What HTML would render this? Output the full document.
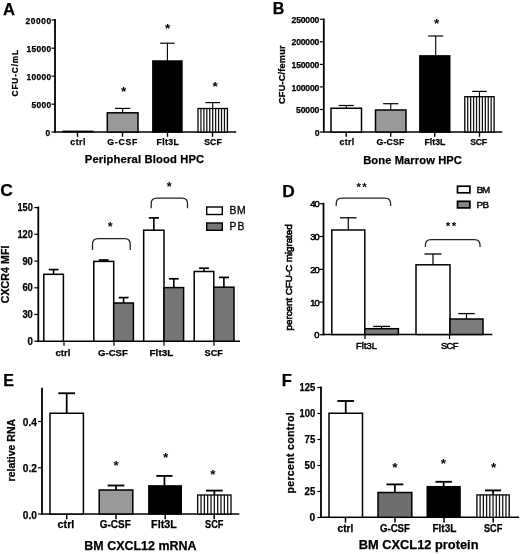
<!DOCTYPE html>
<html lang="en"><head><meta charset="utf-8"><title>Figure</title>
<style>
html,body{margin:0;padding:0;background:#fff;}
svg{display:block;}
</style></head><body>
<svg width="520" height="554" viewBox="0 0 520 554">
<rect width="520" height="554" fill="#fff"/>

<g id="panelA">
<text x="2.97" y="15.00" font-family='"Liberation Sans", sans-serif' font-size="16.6" font-weight="bold" stroke="#000" stroke-width="0.25" textLength="12.99" lengthAdjust="spacing" fill="#000">A</text>
<line x1="55.00" y1="19.00" x2="55.00" y2="132.75" stroke="#000" stroke-width="1.8"/>
<line x1="54.10" y1="132.00" x2="236.30" y2="132.00" stroke="#000" stroke-width="1.6"/>
<line x1="51.50" y1="20.00" x2="55.00" y2="20.00" stroke="#000" stroke-width="1.2"/>
<text x="25.58" y="23.50" font-family='"Liberation Sans", sans-serif' font-size="8.4" font-weight="bold" stroke="#000" stroke-width="0.25" textLength="25.56" lengthAdjust="spacing" fill="#000">20000</text>
<line x1="51.50" y1="48.20" x2="55.00" y2="48.20" stroke="#000" stroke-width="1.2"/>
<text x="26.58" y="51.70" font-family='"Liberation Sans", sans-serif' font-size="8.4" font-weight="bold" stroke="#000" stroke-width="0.25" textLength="24.56" lengthAdjust="spacing" fill="#000">15000</text>
<line x1="51.50" y1="76.20" x2="55.00" y2="76.20" stroke="#000" stroke-width="1.2"/>
<text x="26.58" y="79.70" font-family='"Liberation Sans", sans-serif' font-size="8.4" font-weight="bold" stroke="#000" stroke-width="0.25" textLength="24.56" lengthAdjust="spacing" fill="#000">10000</text>
<line x1="51.50" y1="104.20" x2="55.00" y2="104.20" stroke="#000" stroke-width="1.2"/>
<text x="31.38" y="107.70" font-family='"Liberation Sans", sans-serif' font-size="8.4" font-weight="bold" stroke="#000" stroke-width="0.25" textLength="19.76" lengthAdjust="spacing" fill="#000">5000</text>
<line x1="51.50" y1="132.00" x2="55.00" y2="132.00" stroke="#000" stroke-width="1.2"/>
<text x="45.58" y="135.50" font-family='"Liberation Sans", sans-serif' font-size="8.4" font-weight="bold" stroke="#000" stroke-width="0.25" textLength="5.56" lengthAdjust="spacing" fill="#000">0</text>
<text transform="translate(18.30,96.42) rotate(-90)" x="0" y="0" font-family='"Liberation Sans", sans-serif' font-size="8.3" font-weight="bold" stroke="#000" stroke-width="0.25" textLength="46.55" lengthAdjust="spacing">CFU-C/mL</text>
<rect x="62.80" y="131.10" width="30.30" height="0.90" fill="#fff" stroke="#000" stroke-width="1.0"/>
<line x1="122.65" y1="112.80" x2="122.65" y2="108.40" stroke="#000" stroke-width="1.1"/>
<line x1="114.98" y1="108.40" x2="130.33" y2="108.40" stroke="#000" stroke-width="1.2000000000000002"/>
<rect x="107.30" y="112.80" width="30.70" height="19.20" fill="#999" stroke="#000" stroke-width="1.5"/>
<line x1="167.40" y1="61.00" x2="167.40" y2="43.20" stroke="#000" stroke-width="1.1"/>
<line x1="160.12" y1="43.20" x2="174.67" y2="43.20" stroke="#000" stroke-width="1.2000000000000002"/>
<rect x="152.85" y="61.00" width="29.10" height="71.00" fill="#000" stroke="#000" stroke-width="1.5"/>
<line x1="212.70" y1="108.50" x2="212.70" y2="102.60" stroke="#000" stroke-width="1.1"/>
<line x1="205.35" y1="102.60" x2="220.05" y2="102.60" stroke="#000" stroke-width="1.2000000000000002"/>
<rect x="198.00" y="108.50" width="29.40" height="23.50" fill="#fff" stroke="none"/>
<line x1="200.94" y1="108.50" x2="200.94" y2="132.00" stroke="#111" stroke-width="1.25"/>
<line x1="203.88" y1="108.50" x2="203.88" y2="132.00" stroke="#111" stroke-width="1.25"/>
<line x1="206.82" y1="108.50" x2="206.82" y2="132.00" stroke="#111" stroke-width="1.25"/>
<line x1="209.76" y1="108.50" x2="209.76" y2="132.00" stroke="#111" stroke-width="1.25"/>
<line x1="212.70" y1="108.50" x2="212.70" y2="132.00" stroke="#111" stroke-width="1.25"/>
<line x1="215.64" y1="108.50" x2="215.64" y2="132.00" stroke="#111" stroke-width="1.25"/>
<line x1="218.58" y1="108.50" x2="218.58" y2="132.00" stroke="#111" stroke-width="1.25"/>
<line x1="221.52" y1="108.50" x2="221.52" y2="132.00" stroke="#111" stroke-width="1.25"/>
<line x1="224.46" y1="108.50" x2="224.46" y2="132.00" stroke="#111" stroke-width="1.25"/>
<rect x="198.00" y="108.50" width="29.40" height="23.50" fill="none" stroke="#000" stroke-width="1.3"/>
<line x1="77.50" y1="132.00" x2="77.50" y2="136.80" stroke="#000" stroke-width="1.4"/>
<line x1="122.50" y1="132.00" x2="122.50" y2="136.80" stroke="#000" stroke-width="1.4"/>
<line x1="167.50" y1="132.00" x2="167.50" y2="136.80" stroke="#000" stroke-width="1.4"/>
<line x1="212.50" y1="132.00" x2="212.50" y2="136.80" stroke="#000" stroke-width="1.4"/>
<text x="123.60" y="95.80" text-anchor="middle" font-family='"Liberation Sans", sans-serif' font-size="13.5" font-weight="bold">*</text>
<text x="167.60" y="32.59" text-anchor="middle" font-family='"Liberation Sans", sans-serif' font-size="13.5" font-weight="bold">*</text>
<text x="215.10" y="91.19" text-anchor="middle" font-family='"Liberation Sans", sans-serif' font-size="13.5" font-weight="bold">*</text>
<text x="70.31" y="144.90" font-family='"Liberation Sans", sans-serif' font-size="8.7" font-weight="bold" stroke="#000" stroke-width="0.25" textLength="15.03" lengthAdjust="spacing" fill="#000">ctrl</text>
<text x="107.27" y="144.90" font-family='"Liberation Sans", sans-serif' font-size="8.7" font-weight="bold" stroke="#000" stroke-width="0.25" textLength="30.08" lengthAdjust="spacing" fill="#000">G-CSF</text>
<text x="156.56" y="144.90" font-family='"Liberation Sans", sans-serif' font-size="8.7" font-weight="bold" stroke="#000" stroke-width="0.25" textLength="22.28" lengthAdjust="spacing" fill="#000">Flt3L</text>
<text x="204.16" y="144.90" font-family='"Liberation Sans", sans-serif' font-size="8.7" font-weight="bold" stroke="#000" stroke-width="0.25" textLength="17.68" lengthAdjust="spacing" fill="#000">SCF</text>
<text x="84.84" y="163.20" font-family='"Liberation Sans", sans-serif' font-size="11.2" font-weight="bold" stroke="#000" stroke-width="0.25" textLength="119.31" lengthAdjust="spacing" fill="#000">Peripheral Blood HPC</text>
</g>
<g id="panelB">
<text x="272.80" y="14.00" font-family='"Liberation Sans", sans-serif' font-size="16.0" font-weight="bold" stroke="#000" stroke-width="0.25" textLength="12.24" lengthAdjust="spacing" fill="#000">B</text>
<line x1="323.80" y1="18.50" x2="323.80" y2="132.75" stroke="#000" stroke-width="1.8"/>
<line x1="322.90" y1="132.00" x2="502.20" y2="132.00" stroke="#000" stroke-width="1.6"/>
<line x1="319.80" y1="19.30" x2="323.80" y2="19.30" stroke="#000" stroke-width="1.2"/>
<text x="291.57" y="22.90" font-family='"Liberation Sans", sans-serif' font-size="8.6" font-weight="bold" stroke="#000" stroke-width="0.25" textLength="27.77" lengthAdjust="spacing" fill="#000">250000</text>
<line x1="319.80" y1="41.80" x2="323.80" y2="41.80" stroke="#000" stroke-width="1.2"/>
<text x="291.57" y="45.40" font-family='"Liberation Sans", sans-serif' font-size="8.6" font-weight="bold" stroke="#000" stroke-width="0.25" textLength="27.77" lengthAdjust="spacing" fill="#000">200000</text>
<line x1="319.80" y1="64.40" x2="323.80" y2="64.40" stroke="#000" stroke-width="1.2"/>
<text x="291.57" y="68.00" font-family='"Liberation Sans", sans-serif' font-size="8.6" font-weight="bold" stroke="#000" stroke-width="0.25" textLength="27.77" lengthAdjust="spacing" fill="#000">150000</text>
<line x1="319.80" y1="86.90" x2="323.80" y2="86.90" stroke="#000" stroke-width="1.2"/>
<text x="291.57" y="90.50" font-family='"Liberation Sans", sans-serif' font-size="8.6" font-weight="bold" stroke="#000" stroke-width="0.25" textLength="27.77" lengthAdjust="spacing" fill="#000">100000</text>
<line x1="319.80" y1="109.50" x2="323.80" y2="109.50" stroke="#000" stroke-width="1.2"/>
<text x="296.07" y="113.10" font-family='"Liberation Sans", sans-serif' font-size="8.6" font-weight="bold" stroke="#000" stroke-width="0.25" textLength="23.27" lengthAdjust="spacing" fill="#000">50000</text>
<line x1="319.80" y1="132.00" x2="323.80" y2="132.00" stroke="#000" stroke-width="1.2"/>
<text x="314.77" y="135.60" font-family='"Liberation Sans", sans-serif' font-size="8.6" font-weight="bold" stroke="#000" stroke-width="0.25" textLength="4.57" lengthAdjust="spacing" fill="#000">0</text>
<text transform="translate(285.40,103.96) rotate(-90)" x="0" y="0" font-family='"Liberation Sans", sans-serif' font-size="9.2" font-weight="bold" stroke="#000" stroke-width="0.25" textLength="58.53" lengthAdjust="spacing">CFU-C/femur</text>
<line x1="346.25" y1="108.25" x2="346.25" y2="105.50" stroke="#000" stroke-width="1.1"/>
<line x1="338.62" y1="105.50" x2="353.88" y2="105.50" stroke="#000" stroke-width="1.2000000000000002"/>
<rect x="331.00" y="108.25" width="30.50" height="23.75" fill="#fff" stroke="#000" stroke-width="1.5"/>
<line x1="390.75" y1="110.00" x2="390.75" y2="103.70" stroke="#000" stroke-width="1.1"/>
<line x1="383.12" y1="103.70" x2="398.38" y2="103.70" stroke="#000" stroke-width="1.2000000000000002"/>
<rect x="375.50" y="110.00" width="30.50" height="22.00" fill="#999" stroke="#000" stroke-width="1.5"/>
<line x1="435.70" y1="55.90" x2="435.70" y2="36.00" stroke="#000" stroke-width="1.1"/>
<line x1="428.23" y1="36.00" x2="443.17" y2="36.00" stroke="#000" stroke-width="1.2000000000000002"/>
<rect x="419.85" y="55.90" width="29.90" height="76.10" fill="#000" stroke="#000" stroke-width="1.5"/>
<line x1="479.45" y1="96.70" x2="479.45" y2="91.40" stroke="#000" stroke-width="1.1"/>
<line x1="472.13" y1="91.40" x2="486.78" y2="91.40" stroke="#000" stroke-width="1.2000000000000002"/>
<rect x="464.80" y="96.70" width="29.30" height="35.30" fill="#fff" stroke="none"/>
<line x1="467.73" y1="96.70" x2="467.73" y2="132.00" stroke="#111" stroke-width="1.25"/>
<line x1="470.66" y1="96.70" x2="470.66" y2="132.00" stroke="#111" stroke-width="1.25"/>
<line x1="473.59" y1="96.70" x2="473.59" y2="132.00" stroke="#111" stroke-width="1.25"/>
<line x1="476.52" y1="96.70" x2="476.52" y2="132.00" stroke="#111" stroke-width="1.25"/>
<line x1="479.45" y1="96.70" x2="479.45" y2="132.00" stroke="#111" stroke-width="1.25"/>
<line x1="482.38" y1="96.70" x2="482.38" y2="132.00" stroke="#111" stroke-width="1.25"/>
<line x1="485.31" y1="96.70" x2="485.31" y2="132.00" stroke="#111" stroke-width="1.25"/>
<line x1="488.24" y1="96.70" x2="488.24" y2="132.00" stroke="#111" stroke-width="1.25"/>
<line x1="491.17" y1="96.70" x2="491.17" y2="132.00" stroke="#111" stroke-width="1.25"/>
<rect x="464.80" y="96.70" width="29.30" height="35.30" fill="none" stroke="#000" stroke-width="1.3"/>
<line x1="346.20" y1="132.00" x2="346.20" y2="136.80" stroke="#000" stroke-width="1.4"/>
<line x1="390.70" y1="132.00" x2="390.70" y2="136.80" stroke="#000" stroke-width="1.4"/>
<line x1="434.70" y1="132.00" x2="434.70" y2="136.80" stroke="#000" stroke-width="1.4"/>
<line x1="479.50" y1="132.00" x2="479.50" y2="136.80" stroke="#000" stroke-width="1.4"/>
<text x="436.60" y="27.59" text-anchor="middle" font-family='"Liberation Sans", sans-serif' font-size="13.5" font-weight="bold">*</text>
<text x="339.56" y="144.90" font-family='"Liberation Sans", sans-serif' font-size="8.7" font-weight="bold" stroke="#000" stroke-width="0.25" textLength="14.53" lengthAdjust="spacing" fill="#000">ctrl</text>
<text x="376.56" y="144.90" font-family='"Liberation Sans", sans-serif' font-size="8.7" font-weight="bold" stroke="#000" stroke-width="0.25" textLength="27.78" lengthAdjust="spacing" fill="#000">G-CSF</text>
<text x="424.56" y="144.90" font-family='"Liberation Sans", sans-serif' font-size="8.7" font-weight="bold" stroke="#000" stroke-width="0.25" textLength="20.78" lengthAdjust="spacing" fill="#000">Flt3L</text>
<text x="470.37" y="144.90" font-family='"Liberation Sans", sans-serif' font-size="8.7" font-weight="bold" stroke="#000" stroke-width="0.25" textLength="16.78" lengthAdjust="spacing" fill="#000">SCF</text>
<text x="363.14" y="164.40" font-family='"Liberation Sans", sans-serif' font-size="11.2" font-weight="bold" stroke="#000" stroke-width="0.25" textLength="98.81" lengthAdjust="spacing" fill="#000">Bone Marrow HPC</text>
</g>
<g id="panelC">
<text x="0.33" y="196.00" font-family='"Liberation Sans", sans-serif' font-size="17.4" font-weight="bold" stroke="#000" stroke-width="0.25" textLength="12.67" lengthAdjust="spacing" fill="#000">C</text>
<line x1="38.30" y1="206.50" x2="38.30" y2="342.00" stroke="#000" stroke-width="1.8"/>
<line x1="37.40" y1="341.25" x2="240.00" y2="341.25" stroke="#000" stroke-width="1.6"/>
<line x1="34.30" y1="207.60" x2="38.30" y2="207.60" stroke="#000" stroke-width="1.2"/>
<text x="17.39" y="211.20" font-family='"Liberation Sans", sans-serif' font-size="10.2" font-weight="bold" stroke="#000" stroke-width="0.25" textLength="15.42" lengthAdjust="spacingAndGlyphs" fill="#000">150</text>
<line x1="34.30" y1="234.30" x2="38.30" y2="234.30" stroke="#000" stroke-width="1.2"/>
<text x="17.39" y="237.90" font-family='"Liberation Sans", sans-serif' font-size="10.2" font-weight="bold" stroke="#000" stroke-width="0.25" textLength="15.42" lengthAdjust="spacingAndGlyphs" fill="#000">120</text>
<line x1="34.30" y1="261.10" x2="38.30" y2="261.10" stroke="#000" stroke-width="1.2"/>
<text x="22.39" y="264.70" font-family='"Liberation Sans", sans-serif' font-size="10.2" font-weight="bold" stroke="#000" stroke-width="0.25" textLength="10.42" lengthAdjust="spacingAndGlyphs" fill="#000">90</text>
<line x1="34.30" y1="287.80" x2="38.30" y2="287.80" stroke="#000" stroke-width="1.2"/>
<text x="22.39" y="291.40" font-family='"Liberation Sans", sans-serif' font-size="10.2" font-weight="bold" stroke="#000" stroke-width="0.25" textLength="10.42" lengthAdjust="spacingAndGlyphs" fill="#000">60</text>
<line x1="34.30" y1="314.50" x2="38.30" y2="314.50" stroke="#000" stroke-width="1.2"/>
<text x="22.39" y="318.10" font-family='"Liberation Sans", sans-serif' font-size="10.2" font-weight="bold" stroke="#000" stroke-width="0.25" textLength="10.42" lengthAdjust="spacingAndGlyphs" fill="#000">30</text>
<line x1="34.30" y1="341.25" x2="38.30" y2="341.25" stroke="#000" stroke-width="1.2"/>
<text x="27.39" y="344.85" font-family='"Liberation Sans", sans-serif' font-size="10.2" font-weight="bold" stroke="#000" stroke-width="0.25" textLength="5.42" lengthAdjust="spacingAndGlyphs" fill="#000">0</text>
<text transform="translate(8.90,303.22) rotate(-90)" x="0" y="0" font-family='"Liberation Sans", sans-serif' font-size="10.5" font-weight="bold" stroke="#000" stroke-width="0.25" textLength="57.64" lengthAdjust="spacing">CXCR4 MFI</text>
<line x1="53.60" y1="274.30" x2="53.60" y2="269.60" stroke="#000" stroke-width="1.6"/>
<line x1="48.70" y1="269.60" x2="58.50" y2="269.60" stroke="#000" stroke-width="1.7000000000000002"/>
<rect x="43.80" y="274.30" width="19.60" height="66.95" fill="#fff" stroke="#000" stroke-width="1.5"/>
<line x1="103.75" y1="261.40" x2="103.75" y2="260.00" stroke="#000" stroke-width="1.6"/>
<line x1="98.78" y1="260.00" x2="108.72" y2="260.00" stroke="#000" stroke-width="1.7000000000000002"/>
<rect x="93.80" y="261.40" width="19.90" height="79.85" fill="#fff" stroke="#000" stroke-width="1.5"/>
<line x1="123.55" y1="303.00" x2="123.55" y2="297.60" stroke="#000" stroke-width="1.6"/>
<line x1="118.63" y1="297.60" x2="128.48" y2="297.60" stroke="#000" stroke-width="1.7000000000000002"/>
<rect x="113.70" y="303.00" width="19.70" height="38.25" fill="#757575" stroke="#000" stroke-width="1.5"/>
<line x1="153.85" y1="230.20" x2="153.85" y2="217.90" stroke="#000" stroke-width="1.6"/>
<line x1="148.77" y1="217.90" x2="158.93" y2="217.90" stroke="#000" stroke-width="1.7000000000000002"/>
<rect x="143.70" y="230.20" width="20.30" height="111.05" fill="#fff" stroke="#000" stroke-width="1.5"/>
<line x1="173.80" y1="287.60" x2="173.80" y2="278.80" stroke="#000" stroke-width="1.6"/>
<line x1="168.90" y1="278.80" x2="178.70" y2="278.80" stroke="#000" stroke-width="1.7000000000000002"/>
<rect x="164.00" y="287.60" width="19.60" height="53.65" fill="#757575" stroke="#000" stroke-width="1.5"/>
<line x1="204.00" y1="271.50" x2="204.00" y2="268.20" stroke="#000" stroke-width="1.6"/>
<line x1="199.10" y1="268.20" x2="208.90" y2="268.20" stroke="#000" stroke-width="1.7000000000000002"/>
<rect x="194.20" y="271.50" width="19.60" height="69.75" fill="#fff" stroke="#000" stroke-width="1.5"/>
<line x1="223.90" y1="287.20" x2="223.90" y2="277.40" stroke="#000" stroke-width="1.6"/>
<line x1="218.85" y1="277.40" x2="228.95" y2="277.40" stroke="#000" stroke-width="1.7000000000000002"/>
<rect x="213.80" y="287.20" width="20.20" height="54.05" fill="#757575" stroke="#000" stroke-width="1.5"/>
<line x1="64.00" y1="341.25" x2="64.00" y2="345.75" stroke="#000" stroke-width="1.2"/>
<line x1="114.00" y1="341.25" x2="114.00" y2="345.75" stroke="#000" stroke-width="1.2"/>
<line x1="164.00" y1="341.25" x2="164.00" y2="345.75" stroke="#000" stroke-width="1.2"/>
<line x1="214.00" y1="341.25" x2="214.00" y2="345.75" stroke="#000" stroke-width="1.2"/>
<path d="M92.50,250.00 L92.50,244.20 C92.50,240.90 94.48,238.70 98.00,238.70 H124.70 C128.22,238.70 130.20,240.90 130.20,244.20 L130.20,250.00" fill="none" stroke="#222" stroke-width="1.25"/>
<text x="110.20" y="231.22" text-anchor="middle" font-family='"Liberation Sans", sans-serif' font-size="12.5" font-weight="bold">*</text>
<path d="M151.20,208.30 L151.20,203.50 C151.20,200.20 153.18,198.00 156.70,198.00 H182.00 C185.52,198.00 187.50,200.20 187.50,203.50 L187.50,208.30" fill="none" stroke="#222" stroke-width="1.25"/>
<text x="169.30" y="190.53" text-anchor="middle" font-family='"Liberation Sans", sans-serif' font-size="12.5" font-weight="bold">*</text>
<rect x="206.7" y="207" width="15.6" height="7.5" fill="#fff" stroke="#000" stroke-width="1.4"/>
<rect x="206.7" y="223" width="15.6" height="7.3" fill="#757575" stroke="#000" stroke-width="1.4"/>
<text x="229.48" y="214.00" font-family='"Liberation Sans", sans-serif' font-size="10.4" font-weight="normal" stroke="#000" stroke-width="0.3" textLength="16.24" lengthAdjust="spacing" fill="#000">BM</text>
<text x="229.48" y="229.70" font-family='"Liberation Sans", sans-serif' font-size="10.4" font-weight="normal" stroke="#000" stroke-width="0.3" textLength="14.94" lengthAdjust="spacing" fill="#000">PB</text>
<text x="55.52" y="356.00" font-family='"Liberation Sans", sans-serif' font-size="9.5" font-weight="bold" stroke="#000" stroke-width="0.25" textLength="14.86" lengthAdjust="spacingAndGlyphs" fill="#000">ctrl</text>
<text x="98.03" y="356.00" font-family='"Liberation Sans", sans-serif' font-size="9.5" font-weight="bold" stroke="#000" stroke-width="0.25" textLength="29.86" lengthAdjust="spacingAndGlyphs" fill="#000">G-CSF</text>
<text x="149.53" y="356.00" font-family='"Liberation Sans", sans-serif' font-size="9.5" font-weight="bold" stroke="#000" stroke-width="0.25" textLength="23.86" lengthAdjust="spacingAndGlyphs" fill="#000">Flt3L</text>
<text x="204.53" y="356.00" font-family='"Liberation Sans", sans-serif' font-size="9.5" font-weight="bold" stroke="#000" stroke-width="0.25" textLength="18.36" lengthAdjust="spacingAndGlyphs" fill="#000">SCF</text>
</g>
<g id="panelD">
<text x="282.35" y="196.50" font-family='"Liberation Sans", sans-serif' font-size="17.0" font-weight="bold" stroke="#000" stroke-width="0.25" textLength="12.53" lengthAdjust="spacingAndGlyphs" fill="#000">D</text>
<line x1="323.50" y1="202.80" x2="323.50" y2="335.25" stroke="#000" stroke-width="1.8"/>
<line x1="322.60" y1="334.50" x2="492.30" y2="334.50" stroke="#000" stroke-width="1.6"/>
<line x1="319.50" y1="203.70" x2="323.50" y2="203.70" stroke="#000" stroke-width="1.2"/>
<text x="310.14" y="207.20" font-family='"Liberation Sans", sans-serif' font-size="9.3" font-weight="normal" stroke="#000" stroke-width="0.5" textLength="9.44" lengthAdjust="spacing" fill="#000">40</text>
<line x1="319.50" y1="236.50" x2="323.50" y2="236.50" stroke="#000" stroke-width="1.2"/>
<text x="310.14" y="240.00" font-family='"Liberation Sans", sans-serif' font-size="9.3" font-weight="normal" stroke="#000" stroke-width="0.5" textLength="9.44" lengthAdjust="spacing" fill="#000">30</text>
<line x1="319.50" y1="269.30" x2="323.50" y2="269.30" stroke="#000" stroke-width="1.2"/>
<text x="310.14" y="272.80" font-family='"Liberation Sans", sans-serif' font-size="9.3" font-weight="normal" stroke="#000" stroke-width="0.5" textLength="9.44" lengthAdjust="spacing" fill="#000">20</text>
<line x1="319.50" y1="302.10" x2="323.50" y2="302.10" stroke="#000" stroke-width="1.2"/>
<text x="310.14" y="305.60" font-family='"Liberation Sans", sans-serif' font-size="9.3" font-weight="normal" stroke="#000" stroke-width="0.5" textLength="9.44" lengthAdjust="spacing" fill="#000">10</text>
<line x1="319.50" y1="334.70" x2="323.50" y2="334.70" stroke="#000" stroke-width="1.2"/>
<text x="314.14" y="338.20" font-family='"Liberation Sans", sans-serif' font-size="9.3" font-weight="normal" stroke="#000" stroke-width="0.5" textLength="5.44" lengthAdjust="spacing" fill="#000">0</text>
<text transform="translate(292.20,330.39) rotate(-90)" x="0" y="0" font-family='"Liberation Sans", sans-serif' font-size="9.9" font-weight="normal" stroke="#000" stroke-width="0.6" textLength="106.09" lengthAdjust="spacing">percent CFU-C migrated</text>
<line x1="348.30" y1="230.00" x2="348.30" y2="217.80" stroke="#000" stroke-width="1.2"/>
<line x1="340.05" y1="217.80" x2="356.55" y2="217.80" stroke="#000" stroke-width="1.3"/>
<rect x="331.80" y="230.00" width="33.00" height="104.50" fill="#fff" stroke="#000" stroke-width="1.5"/>
<line x1="381.60" y1="328.70" x2="381.60" y2="326.40" stroke="#000" stroke-width="1.2"/>
<line x1="373.20" y1="326.40" x2="390.00" y2="326.40" stroke="#000" stroke-width="1.3"/>
<rect x="364.80" y="328.70" width="33.60" height="5.80" fill="#7d7d7d" stroke="#000" stroke-width="1.5"/>
<line x1="433.00" y1="264.80" x2="433.00" y2="254.00" stroke="#000" stroke-width="1.2"/>
<line x1="424.50" y1="254.00" x2="441.50" y2="254.00" stroke="#000" stroke-width="1.3"/>
<rect x="416.00" y="264.80" width="34.00" height="69.70" fill="#fff" stroke="#000" stroke-width="1.5"/>
<line x1="466.50" y1="319.00" x2="466.50" y2="313.60" stroke="#000" stroke-width="1.2"/>
<line x1="458.25" y1="313.60" x2="474.75" y2="313.60" stroke="#000" stroke-width="1.3"/>
<rect x="450.00" y="319.00" width="33.00" height="15.50" fill="#7d7d7d" stroke="#000" stroke-width="1.5"/>
<line x1="365.00" y1="334.50" x2="365.00" y2="339.00" stroke="#000" stroke-width="1.2"/>
<line x1="449.50" y1="334.50" x2="449.50" y2="339.00" stroke="#000" stroke-width="1.2"/>
<path d="M336.20,206.00 L336.20,203.70 C336.20,200.40 338.18,198.20 341.70,198.20 H385.10 C388.62,198.20 390.60,200.40 390.60,203.70 L390.60,206.00" fill="none" stroke="#222" stroke-width="1.25"/>
<text x="358.70" y="190.76" text-anchor="middle" font-family='"Liberation Sans", sans-serif' font-size="11.5" font-weight="bold">*</text>
<text x="364.50" y="190.76" text-anchor="middle" font-family='"Liberation Sans", sans-serif' font-size="11.5" font-weight="bold">*</text>
<path d="M425.40,247.00 L425.40,245.00 C425.40,241.70 427.38,239.50 430.90,239.50 H474.50 C478.02,239.50 480.00,241.70 480.00,245.00 L480.00,247.00" fill="none" stroke="#222" stroke-width="1.25"/>
<text x="448.10" y="229.66" text-anchor="middle" font-family='"Liberation Sans", sans-serif' font-size="11.5" font-weight="bold">*</text>
<text x="453.90" y="229.66" text-anchor="middle" font-family='"Liberation Sans", sans-serif' font-size="11.5" font-weight="bold">*</text>
<rect x="457.5" y="186.2" width="12.4" height="6.6" fill="#fff" stroke="#000" stroke-width="1.7"/>
<rect x="457.5" y="201.3" width="12.4" height="6.6" fill="#858585" stroke="#000" stroke-width="1.7"/>
<text x="476.40" y="193.10" font-family='"Liberation Sans", sans-serif' font-size="9.9" font-weight="normal" stroke="#000" stroke-width="0.4" textLength="13.79" lengthAdjust="spacing" fill="#000">BM</text>
<text x="476.40" y="208.10" font-family='"Liberation Sans", sans-serif' font-size="9.9" font-weight="normal" stroke="#000" stroke-width="0.4" textLength="12.79" lengthAdjust="spacing" fill="#000">PB</text>
<text x="355.93" y="348.50" font-family='"Liberation Sans", sans-serif' font-size="9.4" font-weight="normal" stroke="#000" stroke-width="0.5" textLength="21.15" lengthAdjust="spacing" fill="#000">Flt3L</text>
<text x="440.93" y="348.50" font-family='"Liberation Sans", sans-serif' font-size="9.4" font-weight="normal" stroke="#000" stroke-width="0.5" textLength="17.45" lengthAdjust="spacing" fill="#000">SCF</text>
</g>
<g id="panelE">
<text x="3.20" y="386.10" font-family='"Liberation Sans", sans-serif' font-size="16.0" font-weight="bold" stroke="#000" stroke-width="0.25" textLength="11.04" lengthAdjust="spacing" fill="#000">E</text>
<line x1="42.00" y1="387.75" x2="42.00" y2="514.75" stroke="#000" stroke-width="1.8"/>
<line x1="41.10" y1="514.00" x2="239.30" y2="514.00" stroke="#000" stroke-width="1.6"/>
<line x1="38.00" y1="421.50" x2="42.00" y2="421.50" stroke="#000" stroke-width="1.2"/>
<text x="22.87" y="426.00" font-family='"Liberation Sans", sans-serif' font-size="10.6" font-weight="bold" stroke="#000" stroke-width="0.25" textLength="14.15" lengthAdjust="spacingAndGlyphs" fill="#000">0.4</text>
<line x1="38.00" y1="467.80" x2="42.00" y2="467.80" stroke="#000" stroke-width="1.2"/>
<text x="22.87" y="472.30" font-family='"Liberation Sans", sans-serif' font-size="10.6" font-weight="bold" stroke="#000" stroke-width="0.25" textLength="14.15" lengthAdjust="spacingAndGlyphs" fill="#000">0.2</text>
<line x1="38.00" y1="514.00" x2="42.00" y2="514.00" stroke="#000" stroke-width="1.2"/>
<text x="22.87" y="518.50" font-family='"Liberation Sans", sans-serif' font-size="10.6" font-weight="bold" stroke="#000" stroke-width="0.25" textLength="14.15" lengthAdjust="spacingAndGlyphs" fill="#000">0.0</text>
<text transform="translate(14.70,481.38) rotate(-90)" x="0" y="0" font-family='"Liberation Sans", sans-serif' font-size="11.5" font-weight="bold" stroke="#000" stroke-width="0.25" textLength="62.53" lengthAdjust="spacingAndGlyphs">relative RNA</text>
<line x1="66.70" y1="413.25" x2="66.70" y2="393.25" stroke="#000" stroke-width="1.75"/>
<line x1="58.35" y1="393.25" x2="75.05" y2="393.25" stroke="#000" stroke-width="1.85"/>
<rect x="50.00" y="413.25" width="33.40" height="100.75" fill="#fff" stroke="#000" stroke-width="1.5"/>
<line x1="116.00" y1="490.00" x2="116.00" y2="485.50" stroke="#000" stroke-width="1.75"/>
<line x1="107.60" y1="485.50" x2="124.40" y2="485.50" stroke="#000" stroke-width="1.85"/>
<rect x="99.20" y="490.00" width="33.60" height="24.00" fill="#999" stroke="#000" stroke-width="1.5"/>
<line x1="164.45" y1="485.90" x2="164.45" y2="475.90" stroke="#000" stroke-width="1.75"/>
<line x1="156.35" y1="475.90" x2="172.55" y2="475.90" stroke="#000" stroke-width="1.85"/>
<rect x="148.85" y="485.90" width="32.40" height="28.10" fill="#000" stroke="#000" stroke-width="1.5"/>
<line x1="214.35" y1="495.00" x2="214.35" y2="490.60" stroke="#000" stroke-width="1.75"/>
<line x1="206.02" y1="490.60" x2="222.68" y2="490.60" stroke="#000" stroke-width="1.85"/>
<rect x="197.70" y="495.00" width="33.30" height="19.00" fill="#fff" stroke="none"/>
<line x1="201.03" y1="495.00" x2="201.03" y2="514.00" stroke="#111" stroke-width="1.25"/>
<line x1="204.36" y1="495.00" x2="204.36" y2="514.00" stroke="#111" stroke-width="1.25"/>
<line x1="207.69" y1="495.00" x2="207.69" y2="514.00" stroke="#111" stroke-width="1.25"/>
<line x1="211.02" y1="495.00" x2="211.02" y2="514.00" stroke="#111" stroke-width="1.25"/>
<line x1="214.35" y1="495.00" x2="214.35" y2="514.00" stroke="#111" stroke-width="1.25"/>
<line x1="217.68" y1="495.00" x2="217.68" y2="514.00" stroke="#111" stroke-width="1.25"/>
<line x1="221.01" y1="495.00" x2="221.01" y2="514.00" stroke="#111" stroke-width="1.25"/>
<line x1="224.34" y1="495.00" x2="224.34" y2="514.00" stroke="#111" stroke-width="1.25"/>
<line x1="227.67" y1="495.00" x2="227.67" y2="514.00" stroke="#111" stroke-width="1.25"/>
<rect x="197.70" y="495.00" width="33.30" height="19.00" fill="none" stroke="#000" stroke-width="1.3"/>
<line x1="66.70" y1="514.00" x2="66.70" y2="519.30" stroke="#000" stroke-width="1.5"/>
<line x1="116.00" y1="514.00" x2="116.00" y2="519.30" stroke="#000" stroke-width="1.5"/>
<line x1="165.20" y1="514.00" x2="165.20" y2="519.30" stroke="#000" stroke-width="1.5"/>
<line x1="214.20" y1="514.00" x2="214.20" y2="519.30" stroke="#000" stroke-width="1.5"/>
<text x="116.20" y="469.59" text-anchor="middle" font-family='"Liberation Sans", sans-serif' font-size="13.5" font-weight="bold">*</text>
<text x="165.70" y="462.29" text-anchor="middle" font-family='"Liberation Sans", sans-serif' font-size="13.5" font-weight="bold">*</text>
<text x="213.00" y="479.39" text-anchor="middle" font-family='"Liberation Sans", sans-serif' font-size="13.5" font-weight="bold">*</text>
<text x="57.49" y="527.80" font-family='"Liberation Sans", sans-serif' font-size="10.1" font-weight="bold" stroke="#000" stroke-width="0.25" textLength="16.91" lengthAdjust="spacingAndGlyphs" fill="#000">ctrl</text>
<text x="99.70" y="527.80" font-family='"Liberation Sans", sans-serif' font-size="10.1" font-weight="bold" stroke="#000" stroke-width="0.25" textLength="31.11" lengthAdjust="spacingAndGlyphs" fill="#000">G-CSF</text>
<text x="151.09" y="527.80" font-family='"Liberation Sans", sans-serif' font-size="10.1" font-weight="bold" stroke="#000" stroke-width="0.25" textLength="25.71" lengthAdjust="spacingAndGlyphs" fill="#000">Flt3L</text>
<text x="205.09" y="527.80" font-family='"Liberation Sans", sans-serif' font-size="10.1" font-weight="bold" stroke="#000" stroke-width="0.25" textLength="18.41" lengthAdjust="spacingAndGlyphs" fill="#000">SCF</text>
<text x="84.39" y="549.60" font-family='"Liberation Sans", sans-serif' font-size="12.1" font-weight="bold" stroke="#000" stroke-width="0.25" textLength="112.09" lengthAdjust="spacingAndGlyphs" fill="#000">BM CXCL12 mRNA</text>
</g>
<g id="panelF">
<text x="281.78" y="385.80" font-family='"Liberation Sans", sans-serif' font-size="16.5" font-weight="bold" stroke="#000" stroke-width="0.25" textLength="11.18" lengthAdjust="spacing" fill="#000">F</text>
<line x1="321.00" y1="386.60" x2="321.00" y2="518.05" stroke="#000" stroke-width="1.8"/>
<line x1="320.10" y1="517.30" x2="519.20" y2="517.30" stroke="#000" stroke-width="1.6"/>
<line x1="317.40" y1="387.50" x2="321.00" y2="387.50" stroke="#000" stroke-width="1.2"/>
<text x="299.60" y="391.10" font-family='"Liberation Sans", sans-serif' font-size="10.0" font-weight="bold" stroke="#000" stroke-width="0.25" textLength="15.70" lengthAdjust="spacingAndGlyphs" fill="#000">125</text>
<line x1="317.40" y1="413.50" x2="321.00" y2="413.50" stroke="#000" stroke-width="1.2"/>
<text x="299.60" y="417.10" font-family='"Liberation Sans", sans-serif' font-size="10.0" font-weight="bold" stroke="#000" stroke-width="0.25" textLength="15.70" lengthAdjust="spacingAndGlyphs" fill="#000">100</text>
<line x1="317.40" y1="439.50" x2="321.00" y2="439.50" stroke="#000" stroke-width="1.2"/>
<text x="304.60" y="443.10" font-family='"Liberation Sans", sans-serif' font-size="10.0" font-weight="bold" stroke="#000" stroke-width="0.25" textLength="10.70" lengthAdjust="spacingAndGlyphs" fill="#000">75</text>
<line x1="317.40" y1="465.50" x2="321.00" y2="465.50" stroke="#000" stroke-width="1.2"/>
<text x="304.60" y="469.10" font-family='"Liberation Sans", sans-serif' font-size="10.0" font-weight="bold" stroke="#000" stroke-width="0.25" textLength="10.70" lengthAdjust="spacingAndGlyphs" fill="#000">50</text>
<line x1="317.40" y1="491.50" x2="321.00" y2="491.50" stroke="#000" stroke-width="1.2"/>
<text x="304.60" y="495.10" font-family='"Liberation Sans", sans-serif' font-size="10.0" font-weight="bold" stroke="#000" stroke-width="0.25" textLength="10.70" lengthAdjust="spacingAndGlyphs" fill="#000">25</text>
<line x1="317.40" y1="517.50" x2="321.00" y2="517.50" stroke="#000" stroke-width="1.2"/>
<text x="309.60" y="521.10" font-family='"Liberation Sans", sans-serif' font-size="10.0" font-weight="bold" stroke="#000" stroke-width="0.25" textLength="5.70" lengthAdjust="spacingAndGlyphs" fill="#000">0</text>
<text transform="translate(294.00,493.54) rotate(-90)" x="0" y="0" font-family='"Liberation Sans", sans-serif' font-size="10.7" font-weight="bold" stroke="#000" stroke-width="0.25" textLength="81.26" lengthAdjust="spacing">percent control</text>
<line x1="345.75" y1="413.25" x2="345.75" y2="401.00" stroke="#000" stroke-width="1.75"/>
<line x1="337.38" y1="401.00" x2="354.12" y2="401.00" stroke="#000" stroke-width="1.85"/>
<rect x="329.00" y="413.25" width="33.50" height="104.05" fill="#fff" stroke="#000" stroke-width="1.5"/>
<line x1="394.90" y1="492.50" x2="394.90" y2="484.40" stroke="#000" stroke-width="1.75"/>
<line x1="386.45" y1="484.40" x2="403.35" y2="484.40" stroke="#000" stroke-width="1.85"/>
<rect x="378.00" y="492.50" width="33.80" height="24.80" fill="#6e6e6e" stroke="#000" stroke-width="1.5"/>
<line x1="443.65" y1="486.70" x2="443.65" y2="481.80" stroke="#000" stroke-width="1.75"/>
<line x1="435.45" y1="481.80" x2="451.85" y2="481.80" stroke="#000" stroke-width="1.85"/>
<rect x="427.25" y="486.70" width="32.80" height="30.60" fill="#000" stroke="#000" stroke-width="1.5"/>
<line x1="493.05" y1="494.90" x2="493.05" y2="490.40" stroke="#000" stroke-width="1.75"/>
<line x1="484.97" y1="490.40" x2="501.12" y2="490.40" stroke="#000" stroke-width="1.85"/>
<rect x="476.90" y="494.90" width="32.30" height="22.40" fill="#fff" stroke="none"/>
<line x1="480.13" y1="494.90" x2="480.13" y2="517.30" stroke="#111" stroke-width="1.25"/>
<line x1="483.36" y1="494.90" x2="483.36" y2="517.30" stroke="#111" stroke-width="1.25"/>
<line x1="486.59" y1="494.90" x2="486.59" y2="517.30" stroke="#111" stroke-width="1.25"/>
<line x1="489.82" y1="494.90" x2="489.82" y2="517.30" stroke="#111" stroke-width="1.25"/>
<line x1="493.05" y1="494.90" x2="493.05" y2="517.30" stroke="#111" stroke-width="1.25"/>
<line x1="496.28" y1="494.90" x2="496.28" y2="517.30" stroke="#111" stroke-width="1.25"/>
<line x1="499.51" y1="494.90" x2="499.51" y2="517.30" stroke="#111" stroke-width="1.25"/>
<line x1="502.74" y1="494.90" x2="502.74" y2="517.30" stroke="#111" stroke-width="1.25"/>
<line x1="505.97" y1="494.90" x2="505.97" y2="517.30" stroke="#111" stroke-width="1.25"/>
<rect x="476.90" y="494.90" width="32.30" height="22.40" fill="none" stroke="#000" stroke-width="1.3"/>
<line x1="345.50" y1="517.30" x2="345.50" y2="522.60" stroke="#000" stroke-width="1.5"/>
<line x1="395.00" y1="517.30" x2="395.00" y2="522.60" stroke="#000" stroke-width="1.5"/>
<line x1="444.00" y1="517.30" x2="444.00" y2="522.60" stroke="#000" stroke-width="1.5"/>
<line x1="493.20" y1="517.30" x2="493.20" y2="522.60" stroke="#000" stroke-width="1.5"/>
<text x="394.80" y="471.99" text-anchor="middle" font-family='"Liberation Sans", sans-serif' font-size="13.5" font-weight="bold">*</text>
<text x="443.30" y="467.69" text-anchor="middle" font-family='"Liberation Sans", sans-serif' font-size="13.5" font-weight="bold">*</text>
<text x="493.60" y="471.59" text-anchor="middle" font-family='"Liberation Sans", sans-serif' font-size="13.5" font-weight="bold">*</text>
<text x="337.60" y="532.10" font-family='"Liberation Sans", sans-serif' font-size="10.1" font-weight="bold" stroke="#000" stroke-width="0.25" textLength="15.71" lengthAdjust="spacingAndGlyphs" fill="#000">ctrl</text>
<text x="379.89" y="532.10" font-family='"Liberation Sans", sans-serif' font-size="10.1" font-weight="bold" stroke="#000" stroke-width="0.25" textLength="30.11" lengthAdjust="spacingAndGlyphs" fill="#000">G-CSF</text>
<text x="432.39" y="532.10" font-family='"Liberation Sans", sans-serif' font-size="10.1" font-weight="bold" stroke="#000" stroke-width="0.25" textLength="24.01" lengthAdjust="spacingAndGlyphs" fill="#000">Flt3L</text>
<text x="484.00" y="532.10" font-family='"Liberation Sans", sans-serif' font-size="10.1" font-weight="bold" stroke="#000" stroke-width="0.25" textLength="18.31" lengthAdjust="spacingAndGlyphs" fill="#000">SCF</text>
<text x="358.79" y="549.40" font-family='"Liberation Sans", sans-serif' font-size="12.1" font-weight="bold" stroke="#000" stroke-width="0.25" textLength="119.69" lengthAdjust="spacingAndGlyphs" fill="#000">BM CXCL12 protein</text>
</g>
</svg>
</body></html>
